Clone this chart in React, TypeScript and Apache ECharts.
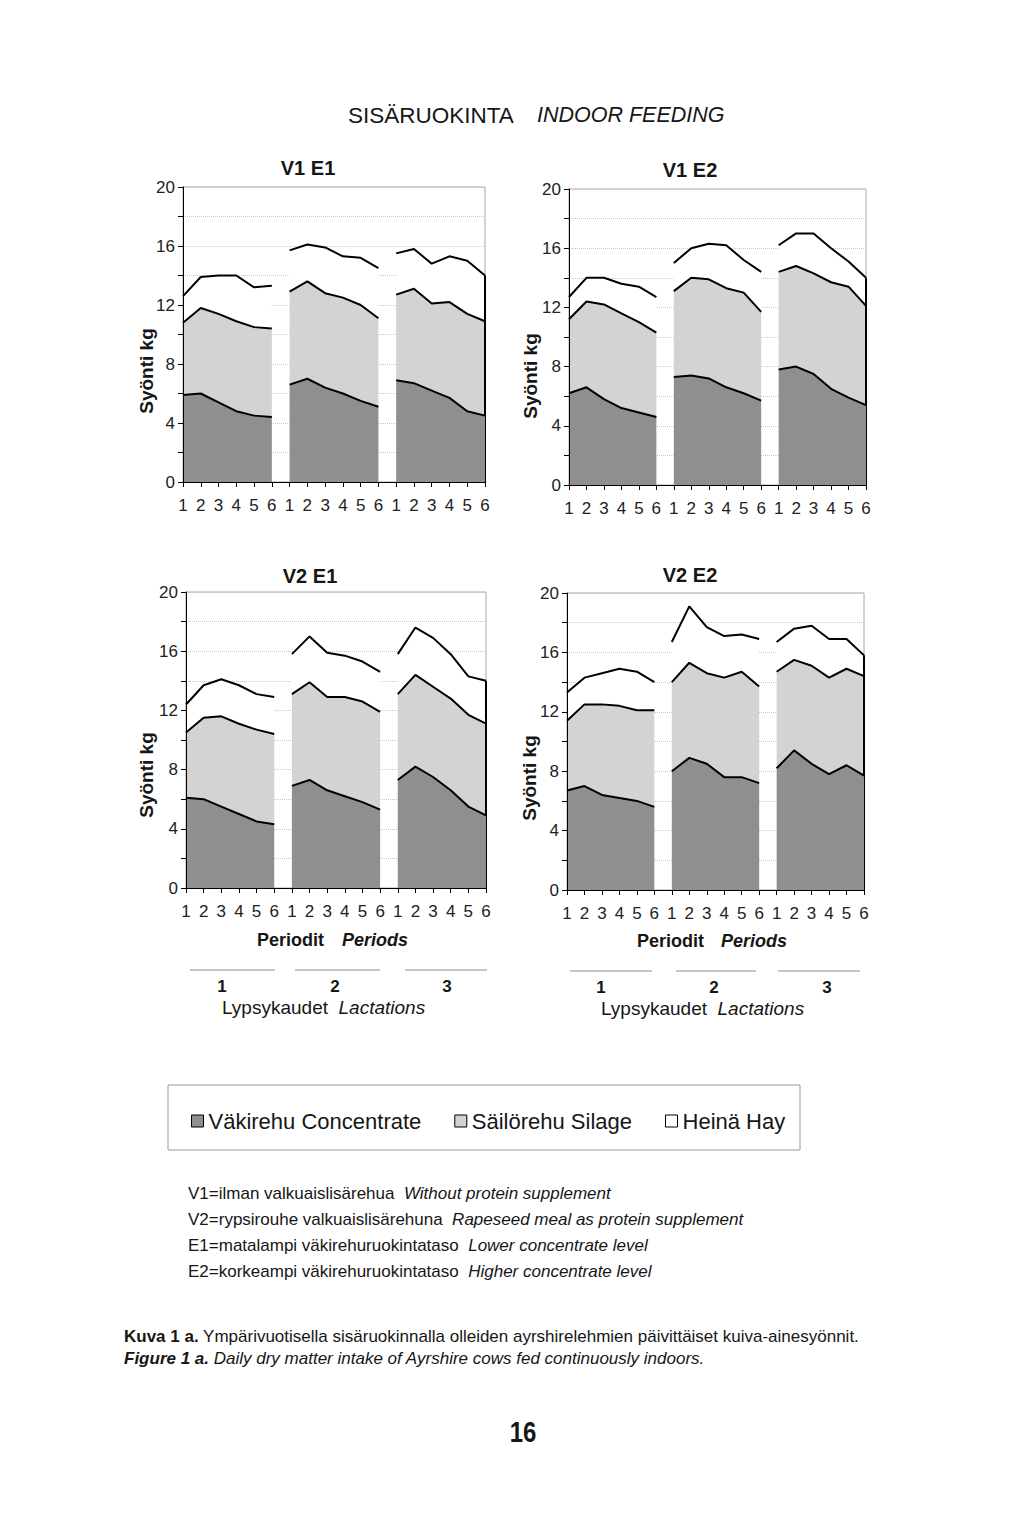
import React, { useEffect, useRef } from 'react';
import * as echarts from 'echarts';

// ---------- data ----------
const periods = ['1', '2', '3', '4', '5', '6', '1', '2', '3', '4', '5', '6', '1', '2', '3', '4', '5', '6'];
const lactationLabels = ['1', '2', '3'];
const yTickLabels = [0, 4, 8, 12, 16, 20];
const seriesNames = ['Väkirehu Concentrate', 'Säilörehu Silage', 'Heinä Hay'];

// V1 E1
const v1e1Concentrate = [5.9, 6.0, 5.4, 4.8, 4.5, 4.4, 6.6, 7.0, 6.4, 6.0, 5.5, 5.1, 6.9, 6.7, 6.2, 5.7, 4.8, 4.5];
const v1e1Silage = [4.9, 5.8, 6.0, 6.1, 6.0, 6.0, 6.3, 6.6, 6.4, 6.5, 6.5, 6.0, 5.8, 6.4, 5.9, 6.5, 6.6, 6.4];
const v1e1Hay = [1.8, 2.1, 2.6, 3.1, 2.7, 2.9, 2.8, 2.5, 3.1, 2.8, 3.2, 3.4, 2.8, 2.7, 2.7, 3.1, 3.6, 3.1];

// V1 E2
const v1e2Concentrate = [6.2, 6.6, 5.8, 5.2, 4.9, 4.6, 7.3, 7.4, 7.2, 6.6, 6.2, 5.7, 7.8, 8.0, 7.5, 6.5, 5.9, 5.4];
const v1e2Silage = [5.0, 5.8, 6.4, 6.4, 6.1, 5.7, 5.8, 6.6, 6.7, 6.7, 6.8, 6.0, 6.6, 6.8, 6.8, 7.2, 7.5, 6.7];
const v1e2Hay = [1.5, 1.6, 1.8, 2.0, 2.4, 2.4, 1.9, 2.0, 2.4, 2.9, 2.2, 2.7, 1.8, 2.2, 2.7, 2.3, 1.7, 1.9];

// V2 E1
const v2e1Concentrate = [6.1, 6.0, 5.5, 5.0, 4.5, 4.3, 6.9, 7.3, 6.6, 6.2, 5.8, 5.3, 7.3, 8.2, 7.5, 6.6, 5.5, 4.9];
const v2e1Silage = [4.4, 5.5, 6.1, 6.1, 6.2, 6.1, 6.2, 6.6, 6.3, 6.7, 6.8, 6.6, 5.8, 6.2, 6.1, 6.2, 6.2, 6.2];
const v2e1Hay = [1.9, 2.2, 2.5, 2.6, 2.4, 2.5, 2.7, 3.1, 3.0, 2.8, 2.7, 2.7, 2.7, 3.2, 3.3, 3.0, 2.6, 2.9];

// V2 E2
const v2e2Concentrate = [6.7, 7.0, 6.4, 6.2, 6.0, 5.6, 8.0, 8.9, 8.5, 7.6, 7.6, 7.2, 8.2, 9.4, 8.5, 7.8, 8.4, 7.7];
const v2e2Silage = [4.7, 5.5, 6.1, 6.2, 6.1, 6.5, 6.0, 6.4, 6.1, 6.7, 7.1, 6.5, 6.5, 6.1, 6.6, 6.5, 6.5, 6.7];
const v2e2Hay = [1.9, 1.8, 2.1, 2.5, 2.6, 1.9, 2.7, 3.8, 3.1, 2.8, 2.5, 3.2, 2.0, 2.1, 2.7, 2.6, 2.0, 1.4];

// ---------- styling ----------
const FONT = "'Liberation Sans', Arial, Helvetica, sans-serif";
const INK = '#161616';
const FILLS = ['#8f8f8f', '#d3d3d3', '#ffffff'];

const panels = [
  { title: 'V1 E1', data: [v1e1Concentrate, v1e1Silage, v1e1Hay], grid: { left: 183, top: 187, width: 302, height: 295 }, titleAt: [308, 168], nameAt: [146, 371] },
  { title: 'V1 E2', data: [v1e2Concentrate, v1e2Silage, v1e2Hay], grid: { left: 569, top: 189, width: 297, height: 296 }, titleAt: [690, 170], nameAt: [530, 376] },
  { title: 'V2 E1', data: [v2e1Concentrate, v2e1Silage, v2e1Hay], grid: { left: 186, top: 592, width: 300, height: 296 }, titleAt: [310, 576], nameAt: [146, 775] },
  { title: 'V2 E2', data: [v2e2Concentrate, v2e2Silage, v2e2Hay], grid: { left: 567, top: 593, width: 297, height: 297 }, titleAt: [690, 575], nameAt: [529, 778] },
];

function txt(x: number, y: number, text: string, o: any = {}) {
  return {
    type: 'text',
    x,
    y,
    rotation: o.rotation || 0,
    scaleX: o.scaleX || 1,
    silent: true,
    style: {
      text,
      fontSize: o.size || 16,
      fontFamily: FONT,
      fontWeight: o.weight || 'normal',
      fontStyle: o.style || 'normal',
      fill: o.fill || INK,
      align: o.align || 'left',
      verticalAlign: 'middle',
    },
  };
}

function richTxt(x: number, y: number, parts: { t: string; w?: string; s?: string }[], size: number) {
  const rich: any = {};
  let text = '';
  parts.forEach((p, i) => {
    rich['p' + i] = { fontSize: size, fontFamily: FONT, fontWeight: p.w || 'normal', fontStyle: p.s || 'normal', fill: INK };
    text += '{p' + i + '|' + p.t + '}';
  });
  return {
    type: 'text',
    x,
    y,
    silent: true,
    style: { text, rich, fontSize: size, fontFamily: FONT, fill: INK, align: 'left', verticalAlign: 'middle' },
  };
}

function buildOption() {
  const grids: any[] = [];
  const xAxes: any[] = [];
  const yAxes: any[] = [];
  const series: any[] = [];
  const graphic: any[] = [];

  panels.forEach((p, pi) => {
    grids.push({ ...p.grid, show: true, borderColor: '#a8a8a8', borderWidth: 1, backgroundColor: 'transparent' });
    xAxes.push({
      type: 'category',
      gridIndex: pi,
      position: 'bottom',
      data: periods,
      boundaryGap: false,
      z: 10,
      axisLine: { show: true, lineStyle: { color: '#000', width: 1 } },
      axisTick: { show: true, interval: 0, length: 5, lineStyle: { color: '#000' } },
      axisLabel: { interval: 0, margin: 15, fontSize: 17, fontFamily: FONT, color: '#222' },
      splitLine: { show: false },
    });
    // grid lines (below the areas)
    yAxes.push({
      type: 'value',
      gridIndex: pi,
      position: 'left',
      min: 0,
      max: 20,
      interval: 2,
      z: 0,
      axisLine: { show: false },
      axisTick: { show: false },
      axisLabel: { show: false },
      splitLine: { show: true, lineStyle: { color: '#c6c6c6', type: 'dotted', width: 1 } },
    });
    // axis line, ticks and labels (above the areas)
    yAxes.push({
      type: 'value',
      gridIndex: pi,
      position: 'left',
      offset: 0,
      min: 0,
      max: 20,
      interval: 2,
      z: 10,
      axisLine: { show: true, onZero: false, lineStyle: { color: '#000', width: 1 } },
      axisTick: { show: true, length: 5, lineStyle: { color: '#000' } },
      axisLabel: {
        margin: 8,
        fontSize: 17,
        fontFamily: FONT,
        color: '#222',
        formatter: (v: number) => (yTickLabels.indexOf(v) >= 0 ? String(v) : ''),
      },
      splitLine: { show: false },
    });

    for (let L = 0; L < 3; L++) {
      p.data.forEach((arr, ci) => {
        const s: any = {
          type: 'line',
          name: seriesNames[ci],
          xAxisIndex: pi,
          yAxisIndex: 2 * pi + 1,
          stack: 'p' + pi + 'l' + L,
          data: arr.map((v, i) => (Math.floor(i / 6) === L ? v : '-')),
          symbol: 'none',
          showSymbol: false,
          connectNulls: false,
          silent: true,
          z: 5 - ci,
          lineStyle: { color: '#000', width: 2 },
          itemStyle: { color: FILLS[ci] },
          areaStyle: { color: FILLS[ci], opacity: 1 },
        };
        if (L === 2 && ci === 0) {
          const last = arr.length - 1;
          const total = p.data[0][last] + p.data[1][last] + p.data[2][last];
          s.markLine = {
            silent: true,
            symbol: ['none', 'none'],
            label: { show: false },
            lineStyle: { color: '#000', width: 2, type: 'solid' },
            data: [[{ coord: [last, 0] }, { coord: [last, total] }]],
          };
        }
        series.push(s);
      });
    }

    graphic.push(txt(p.titleAt[0], p.titleAt[1], p.title, { size: 20, weight: 'bold', align: 'center' }));
    graphic.push(txt(p.nameAt[0], p.nameAt[1], 'Syönti kg', { size: 19, weight: 'bold', align: 'center', rotation: Math.PI / 2 }));
  });

  // page title
  graphic.push(txt(348, 115, 'SISÄRUOKINTA', { size: 22.5 }));
  graphic.push(txt(537, 115, 'INDOOR FEEDING', { size: 21.5, style: 'italic' }));

  // Periods labels
  graphic.push(txt(257, 940, 'Periodit', { size: 18, weight: 'bold' }));
  graphic.push(txt(342, 940, 'Periods', { size: 18, weight: 'bold', style: 'italic' }));
  graphic.push(txt(637, 941, 'Periodit', { size: 18, weight: 'bold' }));
  graphic.push(txt(721, 941, 'Periods', { size: 18, weight: 'bold', style: 'italic' }));

  // Lactation markers
  const lactBlocks = [
    { lines: [[190, 275], [295, 380], [405, 487]], nums: [222, 335, 447], y: 970, textX: 222 },
    { lines: [[570, 652], [676, 756], [778, 860]], nums: [601, 714, 827], y: 971, textX: 601 },
  ];
  lactBlocks.forEach((b) => {
    b.lines.forEach((l) => {
      graphic.push({ type: 'line', silent: true, shape: { x1: l[0], y1: b.y, x2: l[1], y2: b.y }, style: { stroke: '#8a8a8a', lineWidth: 1 } });
    });
    b.nums.forEach((x, i) => graphic.push(txt(x, b.y + 16, lactationLabels[i], { size: 17, weight: 'bold', align: 'center' })));
    graphic.push(richTxt(b.textX, b.y + 37, [{ t: 'Lypsykaudet  ' }, { t: 'Lactations', s: 'italic' }], 19));
  });

  // legend box
  graphic.push({ type: 'rect', silent: true, shape: { x: 168, y: 1085, width: 632, height: 65 }, style: { fill: 'none', stroke: '#9a9a9a', lineWidth: 1 } });

  // notes
  const notes = [
    ['V1=ilman valkuaislisärehua', 'Without protein supplement'],
    ['V2=rypsirouhe valkuaislisärehuna', 'Rapeseed meal as protein supplement'],
    ['E1=matalampi väkirehuruokintataso', 'Lower concentrate level'],
    ['E2=korkeampi väkirehuruokintataso', 'Higher concentrate level'],
  ];
  notes.forEach((n, i) => {
    graphic.push(richTxt(188, 1193 + i * 26, [{ t: n[0] + '  ' }, { t: n[1], s: 'italic' }], 17));
  });

  // caption
  graphic.push(
    richTxt(124, 1336, [
      { t: 'Kuva 1 a.', w: 'bold' },
      { t: ' Ympärivuotisella sisäruokinnalla olleiden ayrshirelehmien päivittäiset kuiva-ainesyönnit.' },
    ], 17)
  );
  graphic.push(
    richTxt(124, 1358, [
      { t: 'Figure 1 a.', w: 'bold', s: 'italic' },
      { t: ' Daily dry matter intake of Ayrshire cows fed continuously indoors.', s: 'italic' },
    ], 17)
  );

  // page number
  graphic.push(txt(523, 1432, '16', { size: 30, weight: 'bold', align: 'center', scaleX: 0.8 }));

  return {
    animation: false,
    backgroundColor: '#ffffff',
    textStyle: { fontFamily: FONT },
    grid: grids,
    xAxis: xAxes,
    yAxis: yAxes,
    series,
    legend: {
      show: true,
      left: 186,
      top: 1105,
      icon: 'rect',
      itemWidth: 12,
      itemHeight: 12,
      itemGap: 33,
      selectedMode: false,
      textStyle: { fontSize: 22, fontFamily: FONT, color: INK },
      data: seriesNames.map((n, i) => ({
        name: n,
        itemStyle: { color: FILLS[i], borderColor: '#000', borderWidth: 1 },
      })),
    },
    graphic,
  };
}

export default function App() {
  const ref = useRef<HTMLDivElement>(null);
  useEffect(() => {
    if (!ref.current) return;
    const chart = echarts.init(ref.current, null, { renderer: 'svg' });
    chart.setOption(buildOption() as any);
    return () => chart.dispose();
  }, []);
  return (
    <div
      ref={ref}
      style={{ position: 'absolute', left: 0, top: 0, width: 1024, height: 1513, background: '#fff' }}
    />
  );
}
